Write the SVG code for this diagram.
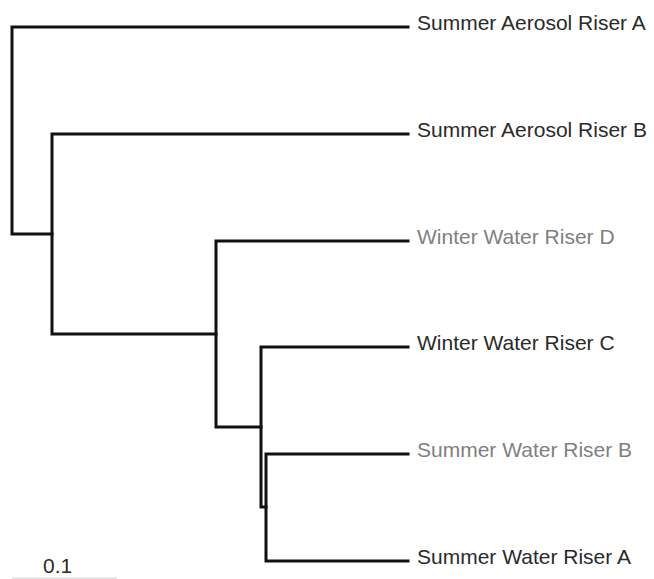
<svg xmlns="http://www.w3.org/2000/svg" width="654" height="579" viewBox="0 0 654 579">
<style>
.edge{fill:none;stroke:#111;stroke-width:3;stroke-linejoin:miter;stroke-linecap:square}
.lbl{font-family:"Liberation Sans",Arial,sans-serif;font-size:21px}
.dark{fill:#2a2a2a}
.gray{fill:#808080}
</style>
<rect width="654" height="579" fill="#fff"/>
<g id="connectors">
<path class="edge" d="M408,27 H12 V234 H52"/>
<path class="edge" d="M408,134 H52 V334 H216"/>
<path class="edge" d="M408,241 H216 V427 H261"/>
<path class="edge" d="M408,347 H261 V507 H266"/>
<path class="edge" d="M408,454 H266 V561 H408"/>
</g>
<g id="leaf-summer-aerosol-a"><text class="lbl dark" x="417" y="30">Summer Aerosol Riser A</text></g>
<g id="leaf-summer-aerosol-b"><text class="lbl dark" x="417" y="137">Summer Aerosol Riser B</text></g>
<g id="leaf-winter-water-d"><text class="lbl gray" x="417" y="244">Winter Water Riser D</text></g>
<g id="leaf-winter-water-c"><text class="lbl dark" x="417" y="350">Winter Water Riser C</text></g>
<g id="leaf-summer-water-b"><text class="lbl gray" x="417" y="457">Summer Water Riser B</text></g>
<g id="leaf-summer-water-a"><text class="lbl dark" x="417" y="564">Summer Water Riser A</text></g>
<g id="scale-bar">
<line x1="12" y1="578" x2="117" y2="578" stroke="#d0d0d0" stroke-width="1"/>
<text class="lbl dark" x="43" y="573">0.1</text>
</g>
</svg>
